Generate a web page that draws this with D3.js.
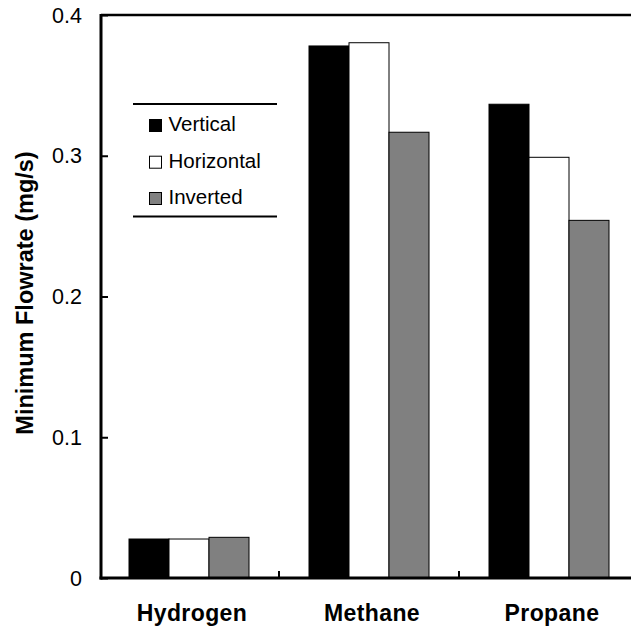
<!DOCTYPE html>
<html><head><meta charset="utf-8">
<script src="https://cdn.jsdelivr.net/npm/d3@7"></script>
<style>body{margin:0;background:#fff}svg{display:block}text{font-family:"Liberation Sans",Arial,sans-serif}</style>
</head><body><svg id="c" width="631" height="626"></svg>
<script>
const categories = ["Hydrogen", "Methane", "Propane"];
const seriesNames = ["Vertical", "Horizontal", "Inverted"];
const vertical = [0.0277, 0.378, 0.3366];
const horizontal = [0.0277, 0.3803, 0.2989];
const inverted = [0.0289, 0.3167, 0.2541];
const yTicks = [0, 0.1, 0.2, 0.3, 0.4];
const yTickLabels = ["0", "0.1", "0.2", "0.3", "0.4"];
const colors = ["#000000", "#ffffff", "#808080"];

const series = [vertical, horizontal, inverted];
const svg = d3.select("#c");
const plotLeft = 101, plotTop = 15, plotBottom = 578;

const y = d3.scaleLinear().domain([0, 0.4]).range([plotBottom, plotTop]);
const x0 = d3.scaleBand().domain(categories).range([99, 639]).paddingInner(1/3).paddingOuter(1/6);
const x1 = d3.scaleBand().domain(seriesNames).range([0, x0.bandwidth()]);

// bars
categories.forEach((c, i) => {
  seriesNames.forEach((s, j) => {
    svg.append("rect")
      .attr("x", x0(c) + x1(s))
      .attr("y", y(series[j][i]))
      .attr("width", x1.bandwidth())
      .attr("height", y(0) - y(series[j][i]))
      .attr("fill", colors[j])
      .attr("stroke", "#000").attr("stroke-width", 1);
  });
});

// frame top line
svg.append("line").attr("x1", plotLeft).attr("x2", 631).attr("y1", plotTop).attr("y2", plotTop)
  .attr("stroke", "#000").attr("stroke-width", 2.5);

// y axis
const yAxis = d3.axisRight(y).tickValues(yTicks).tickSize(7).tickFormat(() => "");
const gy = svg.append("g").attr("transform", `translate(${plotLeft},0)`).call(yAxis);
gy.select(".domain").remove();
gy.selectAll(".tick line").attr("stroke", "#000").attr("stroke-width", 2);
svg.append("line").attr("x1", plotLeft).attr("x2", plotLeft).attr("y1", plotTop - 1).attr("y2", plotBottom + 1.5)
  .attr("stroke", "#000").attr("stroke-width", 3);
svg.selectAll(".ylab").data(yTicks).enter().append("text")
  .attr("x", 82).attr("y", d => y(d)).attr("dy", "0.36em")
  .attr("text-anchor", "end").attr("font-size", 21.5).text((d, i) => yTickLabels[i]);

// x axis
svg.append("line").attr("x1", plotLeft - 1.5).attr("x2", 631).attr("y1", plotBottom).attr("y2", plotBottom)
  .attr("stroke", "#000").attr("stroke-width", 3);
const boundaries = categories.slice(1).map(c => x0(c) - x0.step() * x0.paddingInner() / 2);
svg.selectAll(".xt").data(boundaries).enter().append("line")
  .attr("x1", d => d).attr("x2", d => d).attr("y1", plotBottom).attr("y2", plotBottom - 7)
  .attr("stroke", "#000").attr("stroke-width", 2);
svg.selectAll(".xlab").data(categories).enter().append("text")
  .attr("x", d => x0(d) + x0.bandwidth() / 2 + 3).attr("y", 621)
  .attr("text-anchor", "middle").attr("font-size", 23).attr("font-weight", "bold")
  .attr("letter-spacing", 0.4)
  .text(d => d);

// y title
svg.append("text").attr("transform", "translate(33,293) rotate(-90)")
  .attr("text-anchor", "middle").attr("font-size", 23.5).attr("font-weight", "bold")
  .text("Minimum Flowrate (mg/s)");

// legend
svg.append("line").attr("x1", 133).attr("x2", 277).attr("y1", 104).attr("y2", 104).attr("stroke", "#000").attr("stroke-width", 2);
svg.append("line").attr("x1", 133).attr("x2", 277).attr("y1", 216.5).attr("y2", 216.5).attr("stroke", "#000").attr("stroke-width", 2);
const lb = [131, 167.7, 204];
seriesNames.forEach((s, j) => {
  svg.append("rect").attr("x", 149.5).attr("y", lb[j] - 11.5).attr("width", 12).attr("height", 12)
    .attr("fill", colors[j]).attr("stroke", "#000").attr("stroke-width", 1);
  svg.append("text").attr("x", 168.5).attr("y", lb[j])
    .attr("font-size", 20.5).text(s);
});
</script></body></html>
